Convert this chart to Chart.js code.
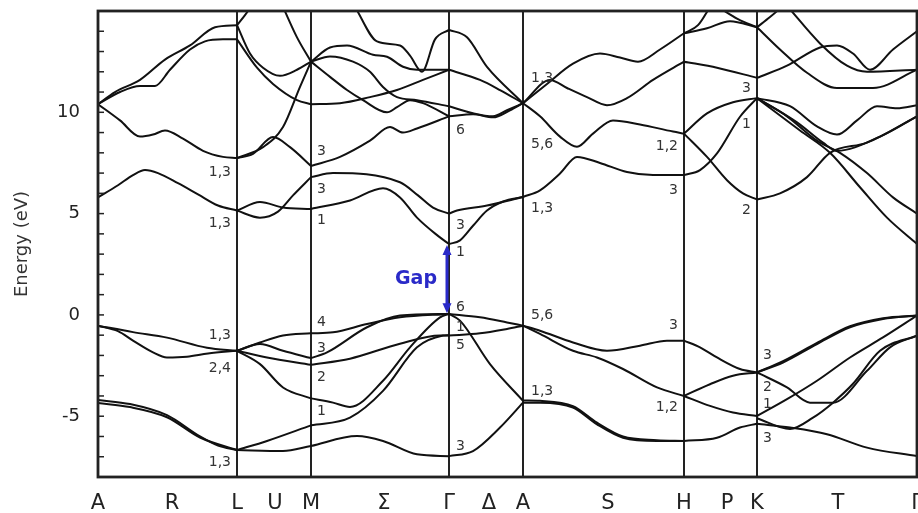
<!DOCTYPE html>
<html>
<head>
<meta charset="utf-8">
<script src="https://cdn.jsdelivr.net/npm/chart.js@4.4.0/dist/chart.umd.min.js"></script>
<style>
  body { margin: 0; background: #fff; }
  canvas { display: block; }
</style>
</head>
<body>
<canvas id="bands" width="918" height="513"></canvas>
<script>
// k-path: positions of the high-symmetry points (vertical lines)
const symPoints = [0, 139, 213, 351, 425, 586, 659, 819];
// path labels under the axis
const pathLabels = ["A", "R", "L", "U", "M", "Σ", "Γ", "Δ", "A", "S", "H", "P", "K", "T", "Γ"];
const pathLabelK = [0, 74, 139, 177, 213, 286, 351, 391, 425, 510, 586, 629, 659, 740, 819];
const energyLabels = [-5, 0, 5, 10];

// bands as [k, E (eV)] pairs, one list per path segment
const bandsAL = [
  [[0, 10.4], [22, 9.6], [42, 8.8], [55, 8.9], [67, 9.1], [85, 8.7], [105, 8.1], [125, 7.8], [139, 7.74]],
  [[0, 5.8], [20, 6.4], [35, 6.9], [47, 7.15], [60, 7.0], [80, 6.5], [100, 5.95], [120, 5.4], [139, 5.15]],
  [[0, 10.4], [22, 11.0], [42, 11.3], [57, 11.3], [72, 12.1], [92, 13.1], [107, 13.5], [125, 13.6], [139, 13.6]],
  [[0, 10.4], [17, 11.0], [42, 11.6], [67, 12.6], [92, 13.3], [117, 14.2], [139, 14.3]],
  [[0, -0.53], [35, -0.85], [69, -1.12], [109, -1.62], [139, -1.77]],
  [[0, -0.53], [20, -0.8], [35, -1.27], [55, -1.85], [69, -2.1], [89, -2.06], [110, -1.9], [139, -1.77]],
  [[0, -4.2], [32, -4.4], [69, -4.95], [102, -6.0], [120, -6.45], [139, -6.67]],
  [[0, -4.35], [32, -4.55], [69, -5.05], [102, -6.05], [139, -6.67]],
];

const bandsLM = [
  [[139, 7.74], [155, 7.95], [175, 8.78], [192, 8.28], [213, 7.35]],
  [[139, 7.74], [165, 8.28], [185, 9.27], [202, 11.25], [213, 12.5]],
  [[139, 5.15], [162, 5.57], [185, 5.3], [213, 5.23]],
  [[139, 5.15], [162, 4.8], [180, 5.1], [195, 5.9], [213, 6.8]],
  [[139, 14.3], [152, 12.9], [165, 12.2], [182, 11.8], [199, 12.1], [213, 12.5]],
  [[139, 13.6], [159, 12.2], [175, 11.4], [199, 10.6], [213, 10.4]],
  [[185, 15.2], [199, 13.7], [213, 12.5]],
  [[139, 14.3], [147, 14.8], [153, 15.2]],
  [[139, -1.77], [162, -1.36], [185, -1.02], [213, -0.91]],
  [[139, -1.77], [162, -1.44], [185, -1.77], [213, -2.13]],
  [[139, -1.77], [169, -2.1], [213, -2.46]],
  [[139, -1.77], [162, -2.43], [185, -3.58], [213, -4.12]],
  [[139, -6.67], [169, -6.22], [213, -5.45]],
  [[139, -6.67], [185, -6.72], [213, -6.47]],
];

const bandsMG = [
  [[213, 5.23], [252, 5.65], [285, 6.25], [302, 5.8], [319, 4.8], [340, 3.9], [351, 3.5]],
  [[213, 6.8], [235, 7.0], [302, 6.55], [320, 5.9], [335, 5.3], [351, 5.0]],
  [[213, 7.35], [242, 7.8], [272, 8.6], [292, 9.27], [305, 9.0], [319, 9.2], [351, 9.8]],
  [[213, 10.4], [242, 10.45], [272, 10.75], [299, 11.1], [325, 11.6], [351, 12.1]],
  [[213, 12.5], [232, 13.2], [249, 13.3], [275, 12.84], [289, 12.74], [305, 12.25], [319, 12.1], [351, 12.1]],
  [[213, 12.5], [232, 12.76], [255, 12.5], [272, 12.0], [285, 11.25], [299, 10.75], [319, 10.6], [351, 10.3]],
  [[213, 12.5], [232, 11.75], [249, 11.1], [265, 10.6], [289, 10.0], [299, 10.25], [312, 10.6], [325, 10.45], [351, 9.8]],
  [[257, 15.2], [279, 13.5], [302, 13.3], [312, 12.8], [324, 12.0], [337, 13.6], [351, 14.07]],
  [[213, -0.91], [235, -0.86], [269, -0.45], [302, -0.12], [351, 0.05]],
  [[213, -2.13], [229, -1.85], [269, -0.61], [302, -0.03], [351, 0.05]],
  [[213, -2.46], [252, -2.16], [302, -1.42], [342, -1.02], [351, -1.02]],
  [[213, -4.12], [235, -4.33], [252, -4.54], [285, -3.25], [312, -1.6], [342, -0.12], [351, 0.05]],
  [[213, -5.45], [252, -5.07], [285, -3.75], [319, -1.6], [345, -1.02], [351, -1.0]],
  [[213, -6.47], [259, -5.98], [285, -6.22], [319, -6.88], [351, -6.97]],
];

const bandsGA = [
  [[351, 14.07], [369, 13.7], [389, 12.24], [425, 10.45]],
  [[351, 12.1], [382, 11.6], [402, 11.1], [425, 10.45]],
  [[351, 10.3], [375, 9.95], [395, 9.8], [409, 10.1], [425, 10.45]],
  [[351, 9.8], [375, 9.9], [395, 9.75], [412, 10.1], [425, 10.45]],
  [[351, 5.0], [359, 5.15], [389, 5.4], [425, 5.82]],
  [[351, 3.5], [362, 3.68], [375, 4.4], [389, 5.15], [405, 5.6], [425, 5.82]],
  [[351, 0.05], [382, -0.12], [409, -0.37], [425, -0.53]],
  [[351, -1.02], [382, -0.91], [409, -0.69], [425, -0.53]],
  [[351, 0.05], [362, -0.28], [392, -2.43], [425, -4.24]],
  [[351, -6.97], [375, -6.72], [402, -5.56], [425, -4.33]],
];

const bandsAH = [
  [[425, 10.45], [449, 11.4], [475, 12.4], [502, 12.9], [522, 12.7], [540, 12.5], [562, 13.1], [586, 13.9]],
  [[425, 10.45], [452, 11.6], [469, 11.2], [489, 10.75], [509, 10.35], [529, 10.7], [555, 11.6], [586, 12.5]],
  [[425, 10.45], [442, 9.8], [462, 8.8], [479, 8.3], [495, 8.95], [515, 9.6], [542, 9.4], [575, 9.05], [586, 8.95]],
  [[425, 5.82], [442, 6.15], [462, 6.98], [479, 7.8], [502, 7.5], [529, 7.05], [555, 6.9], [586, 6.9]],
  [[425, -0.53], [442, -0.78], [475, -1.36], [509, -1.77], [542, -1.52], [569, -1.27], [586, -1.27]],
  [[425, -0.53], [442, -0.94], [475, -1.77], [499, -2.1], [525, -2.67], [559, -3.58], [586, -4.0]],
  [[425, -4.33], [442, -4.33], [475, -4.57], [499, -5.4], [525, -6.06], [559, -6.22], [586, -6.22]],
  [[425, -4.22], [442, -4.24], [475, -4.5], [499, -5.32], [525, -6.0], [559, -6.18], [586, -6.22]],
];

const bandsHK = [
  [[586, 6.9], [602, 7.15], [619, 7.97], [642, 9.78], [659, 10.7]],
  [[586, 8.95], [609, 9.95], [635, 10.5], [659, 10.7]],
  [[586, 8.95], [609, 7.8], [629, 6.65], [645, 6.0], [659, 5.7]],
  [[586, 12.5], [619, 12.2], [659, 11.7]],
  [[586, 13.9], [609, 14.15], [632, 14.5], [659, 14.2]],
  [[586, 13.9], [600, 14.3], [612, 15.2]],
  [[620, 15.2], [640, 14.6], [659, 14.2]],
  [[586, -1.27], [602, -1.6], [619, -2.1], [642, -2.67], [659, -2.84]],
  [[586, -4.0], [612, -3.42], [635, -3.0], [659, -2.84]],
  [[586, -4.0], [612, -4.49], [635, -4.82], [659, -4.99]],
  [[586, -6.22], [619, -6.06], [642, -5.56], [659, -5.37]],
];

const bandsKG = [
  [[659, 11.7], [689, 12.3], [722, 13.2], [739, 13.3], [755, 12.9], [772, 12.1], [795, 13.1], [819, 14.0]],
  [[690, 15.2], [722, 13.4], [749, 12.3], [769, 12.0], [819, 12.1]],
  [[659, 14.2], [682, 13.1], [709, 11.95], [739, 11.2], [775, 11.2], [819, 12.1]],
  [[659, 14.2], [672, 14.7], [684, 15.2]],
  [[659, 10.7], [692, 10.3], [719, 9.3], [739, 8.9], [759, 9.6], [779, 10.3], [799, 10.2], [819, 10.35]],
  [[659, 10.7], [699, 9.5], [725, 8.5], [739, 8.1], [782, 8.8], [819, 9.8]],
  [[659, 10.7], [689, 9.8], [719, 8.6], [742, 8.0], [769, 7.0], [795, 5.8], [819, 5.0]],
  [[659, 10.7], [702, 9.1], [732, 8.0], [762, 6.3], [789, 4.8], [819, 3.5]],
  [[659, 5.7], [682, 6.0], [709, 6.8], [732, 8.0], [769, 8.5], [819, 9.8]],
  [[659, -2.84], [685, -2.35], [719, -1.44], [752, -0.61], [785, -0.2], [819, -0.03]],
  [[659, -2.84], [685, -2.28], [719, -1.38], [752, -0.56], [785, -0.16], [819, -0.03]],
  [[659, -2.84], [689, -3.58], [712, -4.33], [735, -4.33], [769, -2.76], [792, -1.6], [819, -1.02]],
  [[659, -4.99], [689, -4.16], [719, -3.25], [752, -2.1], [785, -1.11], [819, -0.03]],
  [[659, -5.1], [692, -5.63], [715, -5.07], [735, -4.33], [755, -3.4], [782, -1.77], [819, -1.02]],
  [[659, -5.37], [692, -5.56], [729, -5.89], [769, -6.55], [819, -6.97]],
];

// irreducible representation labels: text, k, E, side
const bandLabels = [
  ["1,3", 133, 7.05, "right"], ["1,3", 133, 4.5, "right"], ["1,3", 133, -1.0, "right"],
  ["2,4", 133, -2.65, "right"], ["1,3", 133, -7.3, "right"],
  ["3", 219, 8.05, "left"], ["3", 219, 6.2, "left"], ["1", 219, 4.65, "left"],
  ["4", 219, -0.38, "left"], ["3", 219, -1.67, "left"], ["2", 219, -3.1, "left"], ["1", 219, -4.74, "left"],
  ["6", 358, 9.1, "left"], ["3", 358, 4.4, "left"], ["1", 358, 3.1, "left"], ["6", 358, 0.37, "left"],
  ["1", 358, -0.6, "left"], ["5", 358, -1.5, "left"], ["3", 358, -6.5, "left"],
  ["1,3", 433, 11.7, "left"], ["5,6", 433, 8.4, "left"], ["1,3", 433, 5.25, "left"],
  ["5,6", 433, -0.03, "left"], ["1,3", 433, -3.75, "left"],
  ["1,2", 580, 8.3, "right"], ["3", 580, 6.15, "right"], ["3", 580, -0.53, "right"], ["1,2", 580, -4.57, "right"],
  ["3", 653, 11.2, "right"], ["1", 653, 9.4, "right"], ["2", 653, 5.15, "right"],
  ["3", 665, -2.0, "left"], ["2", 665, -3.6, "left"], ["1", 665, -4.4, "left"], ["3", 665, -6.1, "left"],
];

// band gap arrow at Gamma
const gapK = 349;
const gapRange = [0.08, 3.45];
const gapText = ["Gap", 339, 1.75];

const allBands = [...bandsAL, ...bandsLM, ...bandsMG, ...bandsGA, ...bandsAH, ...bandsHK, ...bandsKG];

const overlayPlugin = {
  id: "overlay",
  afterDatasetsDraw(chart) {
    const { ctx, chartArea, scales: { x, y } } = chart;
    ctx.save();

    // small inward ticks on the energy axis
    ctx.strokeStyle = "#222";
    ctx.lineWidth = 1.5;
    y.ticks.forEach((t) => {
      const py = y.getPixelForValue(t.value);
      ctx.beginPath();
      ctx.moveTo(chartArea.left, py);
      ctx.lineTo(chartArea.left + 6, py);
      ctx.stroke();
    });

    // frame
    ctx.lineWidth = 2.8;
    ctx.strokeRect(chartArea.left, chartArea.top, chartArea.right - chartArea.left, chartArea.bottom - chartArea.top);

    // labels
    ctx.font = "14px 'DejaVu Sans'";
    ctx.fillStyle = "#333";
    ctx.textBaseline = "middle";
    bandLabels.forEach(([txt, k, e, side]) => {
      ctx.textAlign = side;
      ctx.fillText(txt, x.getPixelForValue(k), y.getPixelForValue(e));
    });

    // gap arrow
    const ax = x.getPixelForValue(gapK);
    const yTop = y.getPixelForValue(gapRange[1]);
    const yBot = y.getPixelForValue(gapRange[0]);
    ctx.strokeStyle = "#2a2ac8";
    ctx.fillStyle = "#2a2ac8";
    ctx.lineWidth = 3;
    ctx.beginPath();
    ctx.moveTo(ax, yTop + 6);
    ctx.lineTo(ax, yBot - 6);
    ctx.stroke();
    [[yTop, 1], [yBot, -1]].forEach(([py, dir]) => {
      ctx.beginPath();
      ctx.moveTo(ax, py);
      ctx.lineTo(ax - 4.5, py + dir * 10);
      ctx.lineTo(ax + 4.5, py + dir * 10);
      ctx.closePath();
      ctx.fill();
    });
    ctx.font = "bold 19px 'DejaVu Sans'";
    ctx.textAlign = "right";
    ctx.fillText(gapText[0], x.getPixelForValue(gapText[1]), y.getPixelForValue(gapText[2]));

    ctx.restore();
  },
};

new Chart(document.getElementById("bands"), {
  type: "line",
  data: {
    datasets: allBands.map((band) => ({
      data: band.map(([k, e]) => ({ x: k, y: e })),
      borderColor: "#111",
      borderWidth: 2,
      pointRadius: 0,
      fill: false,
      cubicInterpolationMode: "monotone",
    })),
  },
  options: {
    responsive: false,
    animation: false,
    layout: { padding: { top: 11, right: 1, left: 0, bottom: 0 } },
    plugins: {
      legend: { display: false },
      tooltip: { enabled: false },
    },
    scales: {
      x: {
        type: "linear",
        min: 0,
        max: 819,
        afterBuildTicks: (scale) => {
          scale.ticks = pathLabelK.map((v) => ({ value: v }));
        },
        afterFit: (scale) => {
          scale.height = 36;
          scale.paddingLeft = 0;
          scale.paddingRight = 0;
        },
        ticks: {
          autoSkip: false,
          maxRotation: 0,
          minRotation: 0,
          padding: 14,
          color: "#222",
          font: { family: "DejaVu Sans", size: 21 },
          callback: (v, i) => pathLabels[i],
        },
        grid: {
          drawTicks: false,
          lineWidth: 2,
          color: (ctx) => (ctx.tick && symPoints.includes(ctx.tick.value) ? "#222" : "rgba(0,0,0,0)"),
        },
        border: { display: false },
      },
      y: {
        min: -8,
        max: 15,
        afterFit: (scale) => {
          scale.width = 98;
          scale.paddingTop = 0;
          scale.paddingBottom = 0;
        },
        ticks: {
          stepSize: 1,
          autoSkip: false,
          padding: 18,
          color: "#222",
          font: { family: "DejaVu Sans", size: 18 },
          callback: (v) => (energyLabels.includes(v) ? String(v) : ""),
        },
        grid: { display: false, drawTicks: false },
        border: { display: false },
        title: {
          display: true,
          text: "Energy (eV)",
          color: "#333",
          font: { family: "DejaVu Sans", size: 18 },
          padding: { top: 12, bottom: 0 },
        },
      },
    },
  },
  plugins: [overlayPlugin],
});
</script>
</body>
</html>
